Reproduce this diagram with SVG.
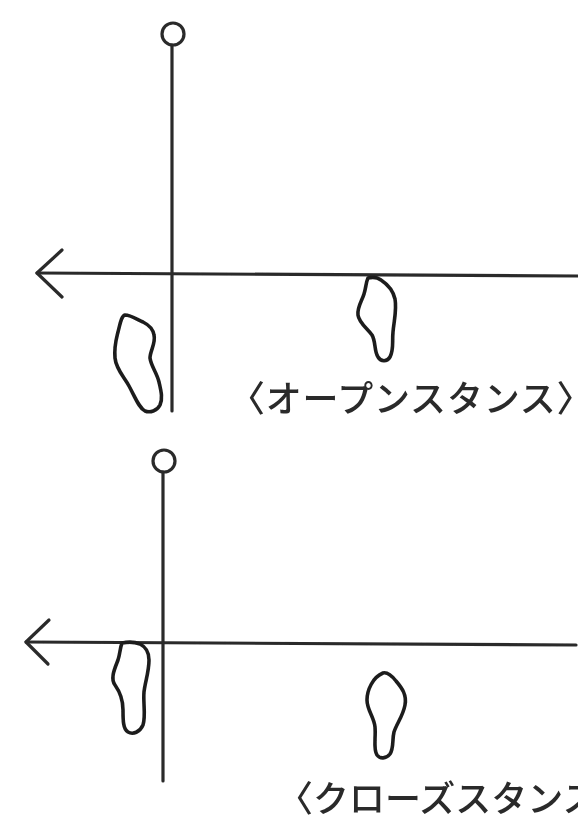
<svg xmlns="http://www.w3.org/2000/svg" width="578" height="819" viewBox="0 0 578 819">
<style>
.l{fill:none;stroke:#2b2b2b;stroke-width:3.2;stroke-linecap:round;stroke-linejoin:round}
.f{fill:none;stroke:#1e1e1e;stroke-width:3.6;stroke-linejoin:round}
.t{font-family:"Noto Sans CJK JP","Noto Sans CJK SC",sans-serif;font-size:36px;font-weight:500;fill:#2b2b2b}
</style>
<defs><filter id="b" x="-5%" y="-5%" width="110%" height="110%"><feGaussianBlur stdDeviation="0.7"/></filter></defs>
<rect width="578" height="819" fill="#fff"/>
<g filter="url(#b)">
<g id="connectors">
<path class="l" d="M172 45V411"/>
<path class="l" d="M37 273L578 276"/>
<path class="l" d="M62 250L37 273L62 297"/>
<path class="l" d="M163 472V781"/>
<path class="l" d="M26 642L576 645"/>
<path class="l" d="M49 620L26 642L48 664"/>
</g>
<g id="pin-top"><circle class="l" cx="173" cy="34" r="11"/></g>
<g id="pin-bottom"><circle class="l" cx="164" cy="461" r="11"/></g>
<g id="foot-open-left"><path class="f" d="M125 315C131 315 138 320 143 322C149 325 153 329 154 335C156 343 150 351 150 358C151 366 157 373 159 382C161 391 163 398 160 405C157 411 150 413 145 411C139 408 135 397 129 386C124 377 116 369 115 358C114 346 116 340 118 332C120 325 121 316 125 315Z"/></g>
<g id="foot-open-right"><path class="f" d="M368 278C372 277 377 277 381 280C387 284 393 290 395 299C397 310 394 320 393 332C392 342 394 350 390 357C387 362 381 362 378 357C374 351 376 342 372 335C367 328 359 323 358 315C357 307 362 301 364 294C366 288 366 282 368 278Z"/></g>
<g id="foot-close-left"><path class="f" d="M122 643C127 642 135 642 140 644C146 647 149 652 149 660C149 672 145 682 144 692C143 703 146 716 143 725C140 732 133 735 128 732C123 729 123 720 123 710C123 700 120 692 115 685C110 678 115 668 118 660C120 654 120 648 122 643Z"/></g>
<g id="foot-close-right"><path class="f" d="M383 673C387 672 392 676 396 681C402 688 407 695 405 705C403 716 397 723 394 732C392 740 394 748 390 754C386 759 380 759 377 755C373 749 376 738 375 727C374 717 367 710 367 700C367 690 373 677 383 673Z"/></g>
<g id="label-open"><text class="t" x="229" y="412" letter-spacing="0.8">〈オープンスタンス〉</text></g>
<g id="label-close"><text class="t" x="277" y="812">〈クローズスタンス〉</text></g>
</g>
</svg>
